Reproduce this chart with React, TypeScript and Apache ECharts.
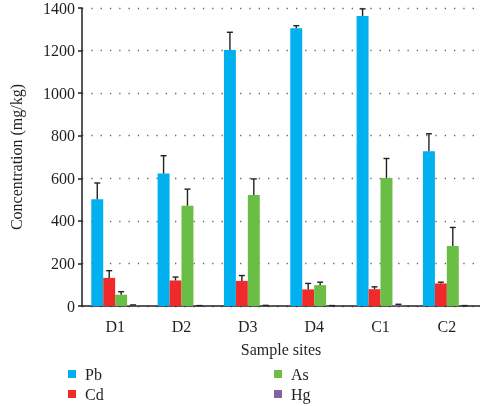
import React, { useEffect, useRef } from "react";
import * as echarts from "echarts";

const categories = ["D1", "D2", "D3", "D4", "C1", "C2"];
const seriesNames = ["Pb", "Cd", "As", "Hg"];
const pbMean = [502, 622, 1203, 1305, 1362, 727];
const pbSd = [76, 84, 83, 12, 34, 82];
const cdMean = [132, 120, 118, 78, 79, 106];
const cdSd = [34, 16, 25, 28, 11, 6];
const asMean = [53, 471, 521, 98, 601, 282];
const asSd = [14, 78, 76, 14, 92, 87];
const hgMean = [3, 1, 2, 1, 5, 1];
const hgSd = [2, 1, 1, 1, 3, 1];
const colors = ["#00b0ef", "#ee2a2a", "#6abd45", "#8064a2"];

const means = [pbMean, cdMean, asMean, hgMean];
const sds = [pbSd, cdSd, asSd, hgSd];

const FONT = "Liberation Serif";
const FS = 16;
const CAT_GAP = 0.28;

export default function App() {
  const ref = useRef<HTMLDivElement>(null);
  useEffect(() => {
    if (!ref.current) return;
    const chart = echarts.init(ref.current, null, { renderer: "svg" });
    const barSeries = seriesNames.map((name, i) => ({
      name,
      type: "bar",
      data: means[i],
      barGap: "0%",
      barCategoryGap: CAT_GAP * 100 + "%",
      itemStyle: { color: colors[i] },
      z: 2,
    }));
    const errSeries = seriesNames.map((name, i) => ({
      name: name + " err",
      type: "custom",
      z: 3,
      data: means[i].map((m, k) => [k, m, m + sds[i][k]]),
      encode: { x: 0, y: [1, 2] },
      renderItem: (params: any, api: any) => {
        const ci = api.value(0);
        const v = api.value(1);
        const hi = api.value(2);
        const band = api.size([1, 0])[0];
        const bw = (band * (1 - CAT_GAP)) / 4;
        const off = (i - 1.5) * bw;
        const p0 = api.coord([ci, v]);
        const p1 = api.coord([ci, hi]);
        const x = p0[0] + off;
        const st = { stroke: "#222", lineWidth: 1.4 };
        return {
          type: "group",
          children: [
            { type: "line", shape: { x1: x, y1: p0[1], x2: x, y2: p1[1] }, style: st },
            { type: "line", shape: { x1: x - 3, y1: p1[1], x2: x + 3, y2: p1[1] }, style: st },
          ],
        };
      },
    }));
    const legendCommon = {
      orient: "vertical",
      top: 366,
      height: 42,
      icon: "rect",
      itemWidth: 8,
      itemHeight: 8,
      itemGap: 4,
      padding: 0,
      textStyle: {
        fontFamily: FONT,
        fontSize: FS,
        color: "#231f20",
        padding: [0, 0, 0, 4],
      },
    };
    chart.setOption({
      animation: false,
      textStyle: { fontFamily: FONT },
      grid: { left: 68, right: 0, top: 5.5, bottom: 100 },
      legend: [
        { ...legendCommon, data: ["Pb", "Cd"], left: 68 },
        { ...legendCommon, data: ["As", "Hg"], left: 274 },
      ],
      xAxis: {
        type: "category",
        data: categories,
        name: "Sample sites",
        nameLocation: "middle",
        nameGap: 35,
        nameTextStyle: { fontFamily: FONT, fontSize: FS, color: "#231f20" },
        axisLine: { lineStyle: { color: "#231f20", width: 1.5 } },
        axisTick: { length: 5, lineStyle: { color: "#231f20", width: 1.5 } },
        axisLabel: { fontFamily: FONT, fontSize: FS, color: "#231f20", margin: 12 },
      },
      yAxis: {
        type: "value",
        min: 0,
        max: 1400,
        interval: 200,
        name: "Concentration (mg/kg)",
        nameLocation: "middle",
        nameGap: 58,
        nameTextStyle: { fontFamily: FONT, fontSize: FS, color: "#231f20" },
        axisLine: { show: true, lineStyle: { color: "#231f20", width: 1.5 } },
        axisTick: { show: true, length: 4, lineStyle: { color: "#231f20", width: 1.5 } },
        axisLabel: {
          fontFamily: FONT,
          fontSize: FS,
          color: "#231f20",
          margin: 7,
          formatter: (v: number) => String(v),
        },
        splitLine: { show: true, lineStyle: { color: "#666", width: 1.3, type: [1.3, 8] } },
      },
      series: [...barSeries, ...errSeries],
    });
    return () => chart.dispose();
  }, []);
  return (
    <div
      ref={ref}
      style={{ width: 480, height: 406, position: "fixed", left: 0, top: 0 }}
    />
  );
}
